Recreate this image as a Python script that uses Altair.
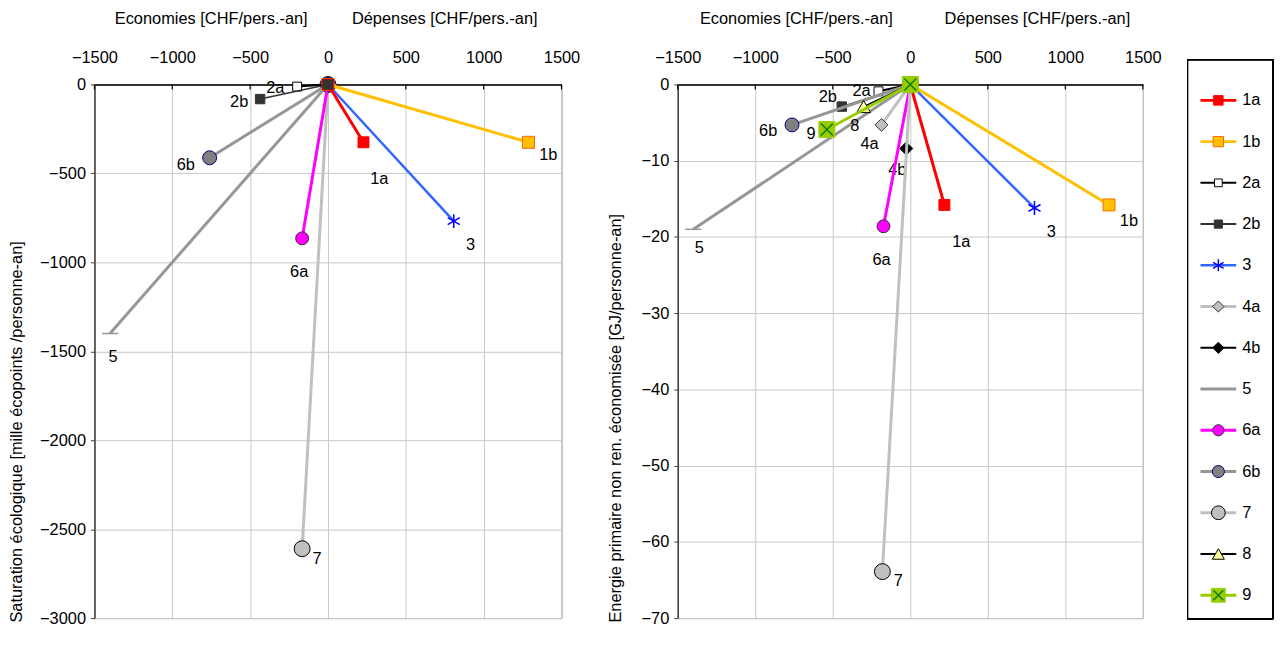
import altair as alt
import pandas as pd

FONT = "Liberation Sans"
FS = 16.5

SERIES = ["1a", "1b", "2a", "2b", "3", "4a", "4b", "5", "6a", "6b", "7", "8", "9"]

# Left panel: cost [CHF/pers.-an] vs ecological saturation [mille ecopoints/personne-an]
L_SERIES = ["7", "6b", "6a", "5", "3", "2a", "1b", "1a", "2b"]
L_COST = [-166, -760, -166, -1400, 808, -198, 1288, 228, -436]
L_ECO = [-2610, -412, -865, -1400, -768, -12, -325, -325, -82]

# Right panel: cost [CHF/pers.-an] vs non-renewable primary energy saved [GJ/personne-an]
R_SERIES = SERIES
R_COST = [220, 1282, -205, -442, 801, -186, -26, -1400, -173, -763, -180, -301, -538]
R_ENERGY = [-15.8, -15.8, -0.9, -2.9, -16.2, -5.3, -8.4, -19.0, -18.6, -5.3, -63.9, -2.9, -5.9]

X_TICKS = [-1500, -1000, -500, 0, 500, 1000, 1500]
L_Y_TICKS = [0, -500, -1000, -1500, -2000, -2500, -3000]
R_Y_TICKS = [0, -10, -20, -30, -40, -50, -60, -70]
HEADERS = ["Economies [CHF/pers.-an]", "Dépenses [CHF/pers.-an]"]
L_HEADER_X = [-750, 750]
R_HEADER_X = [-735, 820]
L_YTITLE = "Saturation écologique [mille écopoints /personne-an]"
R_YTITLE = "Energie primaire non ren. économisée [GJ/personne-an]"

ASTER = "M0,-1L0,1M-0.87,-0.5L0.87,0.5M-0.87,0.5L0.87,-0.5"
XMARK = "M-0.75,-0.75L0.75,0.75M-0.75,0.75L0.75,-0.75"

STYLE = {
    "1a": dict(line="#FF0000", sw=3, shape="square", fill="#FF0000", stroke="#FF0000", size=121),
    "1b": dict(line="#FFC000", sw=3, shape="square", fill="#FFC000", stroke="#FF6600", size=144),
    "2a": dict(line="#000000", sw=2, shape="square", fill="#FFFFFF", stroke="#000000", size=81),
    "2b": dict(line="#333333", sw=1.5, shape="square", fill="#333333", stroke="#333333", size=90),
    "3": dict(line="#3366FF", sw=2.5, shape=ASTER, fill="transparent", stroke="#0000FF", size=196),
    "4a": dict(line="#C0C0C0", sw=3, shape="diamond", fill="#C0C0C0", stroke="#333333", size=169),
    "4b": dict(line="#000000", sw=1, shape="diamond", fill="#000000", stroke="#000000", size=169),
    "5": dict(line="#969696", sw=3, shape="stroke", fill="#969696", stroke="#969696", size=256),
    "6a": dict(line="#FF00FF", sw=3, shape="circle", fill="#FF00FF", stroke="#333333", size=169),
    "6b": dict(line="#969696", sw=3, shape="circle", fill="#808080", stroke="#000080", size=196),
    "7": dict(line="#C0C0C0", sw=3, shape="circle", fill="#C0C0C0", stroke="#000000", size=256),
    "8": dict(line="#000000", sw=1.5, shape="triangle-up", fill="#FFFF99", stroke="#000000", size=196),
    "9": dict(line="#99CC00", sw=3, shape="square", fill="#99CC00", stroke="#99CC00", size=256),
}

L_OFFSETS = {"1a": (16, 37), "1b": (20, 13), "2a": (-22, 1), "2b": (-21, 3), "3": (17, 24),
             "5": (3, 24), "6a": (-3, 34), "6b": (-24, 7), "7": (15, 10)}
R_OFFSETS = {"1a": (17, 37), "1b": (20, 16), "2a": (-17, 0), "2b": (-14, -10), "3": (17, 24),
             "4a": (-12, 19), "4b": (-9, 22), "5": (6, 19), "6a": (-2, 34), "6b": (-24, 6),
             "7": (16, 9), "8": (-9, 20), "9": (-16, 5)}

PLOT_H = 537


def panel(series, xs, ys, ydomain, yticks, ytitle, offsets, header_x, header_y, title_pad):
    rows = []
    for s, x, y in zip(series, xs, ys):
        rows.append({"series": s, "x": 0, "y": 0, "end": 0})
        rows.append({"series": s, "x": x, "y": y, "end": 1})
    df = pd.DataFrame(rows)

    xenc = alt.X("x:Q", scale=alt.Scale(domain=[-1500, 1500], nice=False, zero=False),
                 axis=alt.Axis(orient="top", values=X_TICKS, format="d", title=None, grid=True,
                               gridColor="#C8C8C8", gridWidth=1, domainColor="#000000",
                               domainWidth=1.5, ticks=False, labelPadding=19, labelFlush=False,
                               labelOverlap=False,
                               labelFont=FONT, labelFontSize=FS, labelColor="#000000"))
    yenc = alt.Y("y:Q", scale=alt.Scale(domain=ydomain, nice=False, zero=False),
                 axis=alt.Axis(values=yticks, format="d", title=ytitle, grid=True,
                               gridColor="#C8C8C8", gridWidth=1, domainColor="#404040",
                               domainWidth=1.5, tickColor="#404040", tickSize=4, labelPadding=5,
                               labelFlush=False, labelOverlap=False,
                               labelFont=FONT, labelFontSize=FS, labelColor="#000000",
                               titleFont=FONT, titleFontSize=FS, titleFontWeight="normal",
                               titleColor="#000000", titlePadding=title_pad,
                               titleAnchor="start", titleY=PLOT_H + 4))

    layers = []
    tick_df = pd.DataFrame({"x": X_TICKS})
    layers.append(alt.Chart(tick_df).mark_rule(color="#000000", strokeWidth=1.2).encode(
        x=xenc, y=alt.value(0), y2=alt.value(5)))
    for s in series:
        st = STYLE[s]
        base = alt.Chart(df).transform_filter(alt.datum.series == s)
        layers.append(base.mark_line(color=st["line"], strokeWidth=st["sw"]).encode(
            x=xenc, y=yenc, order="end:Q"))
        layers.append(base.mark_point(shape=st["shape"], filled=True, fill=st["fill"],
                                      stroke=st["stroke"],
                                      strokeWidth=1.5 if s in ("3", "5") else 1,
                                      size=st["size"], opacity=1).encode(x=xenc, y=yenc))
        if s == "9":
            layers.append(base.mark_point(shape=XMARK, filled=False, stroke="#007A00",
                                          strokeWidth=1.3, size=256, opacity=1).encode(
                x=xenc, y=yenc))
        dx, dy = offsets[s]
        layers.append(base.transform_filter(alt.datum.end == 1).mark_text(
            dx=dx, dy=dy, font=FONT, fontSize=FS, color="#000000", align="center",
            baseline="middle").encode(x=xenc, y=yenc, text="series:N"))

    hdf = pd.DataFrame({"x": header_x, "label": HEADERS})
    layers.append(alt.Chart(hdf).mark_text(font=FONT, fontSize=FS, color="#000000",
                                           baseline="middle").encode(
        x=xenc, y=alt.value(header_y), text="label:N"))
    return alt.layer(*layers)


def legend_layers(x0):
    leg_df = pd.DataFrame({"series": SERIES})
    ly = alt.Y("series:N", scale=alt.Scale(domain=SERIES, type="point", range=[16, 514],
                                           padding=0), axis=None)
    out = [alt.Chart(leg_df).mark_rect(fill="transparent", stroke="#000000",
                                       strokeWidth=1).encode(
        x=alt.value(x0), x2=alt.value(x0 + 86), y=alt.value(-25), y2=alt.value(PLOT_H + 1))]
    for s in SERIES:
        st = STYLE[s]
        b = alt.Chart(leg_df).transform_filter(alt.datum.series == s)
        out.append(b.mark_rule(color=st["line"], strokeWidth=max(st["sw"], 2)).encode(
            y=ly, x=alt.value(x0 + 13), x2=alt.value(x0 + 49)))
        if s != "5":
            out.append(b.mark_point(shape=st["shape"], filled=True, fill=st["fill"],
                                    stroke=st["stroke"], strokeWidth=1.5 if s == "3" else 1,
                                    size=st["size"] * 0.75, opacity=1).encode(
                y=ly, x=alt.value(x0 + 31)))
        if s == "9":
            out.append(b.mark_point(shape=XMARK, filled=False, stroke="#007A00",
                                    strokeWidth=1.2, size=180, opacity=1).encode(
                y=ly, x=alt.value(x0 + 31)))
    out.append(alt.Chart(leg_df).mark_text(font=FONT, fontSize=FS, color="#000000",
                                           align="left", baseline="middle").encode(
        y=ly, x=alt.value(x0 + 55), text="series:N"))
    return alt.layer(*out)


left = panel(L_SERIES, L_COST, L_ECO, [-3000, 0], L_Y_TICKS, L_YTITLE,
             L_OFFSETS, L_HEADER_X, -66, 15).properties(width=470, height=PLOT_H)
right_main = panel(R_SERIES, R_COST, R_ENERGY, [-70, 0], R_Y_TICKS, R_YTITLE,
                   R_OFFSETS, R_HEADER_X, -66, 18)
right = alt.layer(right_main, legend_layers(513)).resolve_scale(y="independent").properties(
    width=468, height=PLOT_H)

chart = alt.hconcat(left, right, spacing=117, bounds="flush").properties(
    padding={"left": 0, "top": 0, "right": 0, "bottom": 0}
).configure_view(stroke="#909090", strokeWidth=1)

chart.save("out.html", embed_options={"renderer": "svg", "actions": False})
